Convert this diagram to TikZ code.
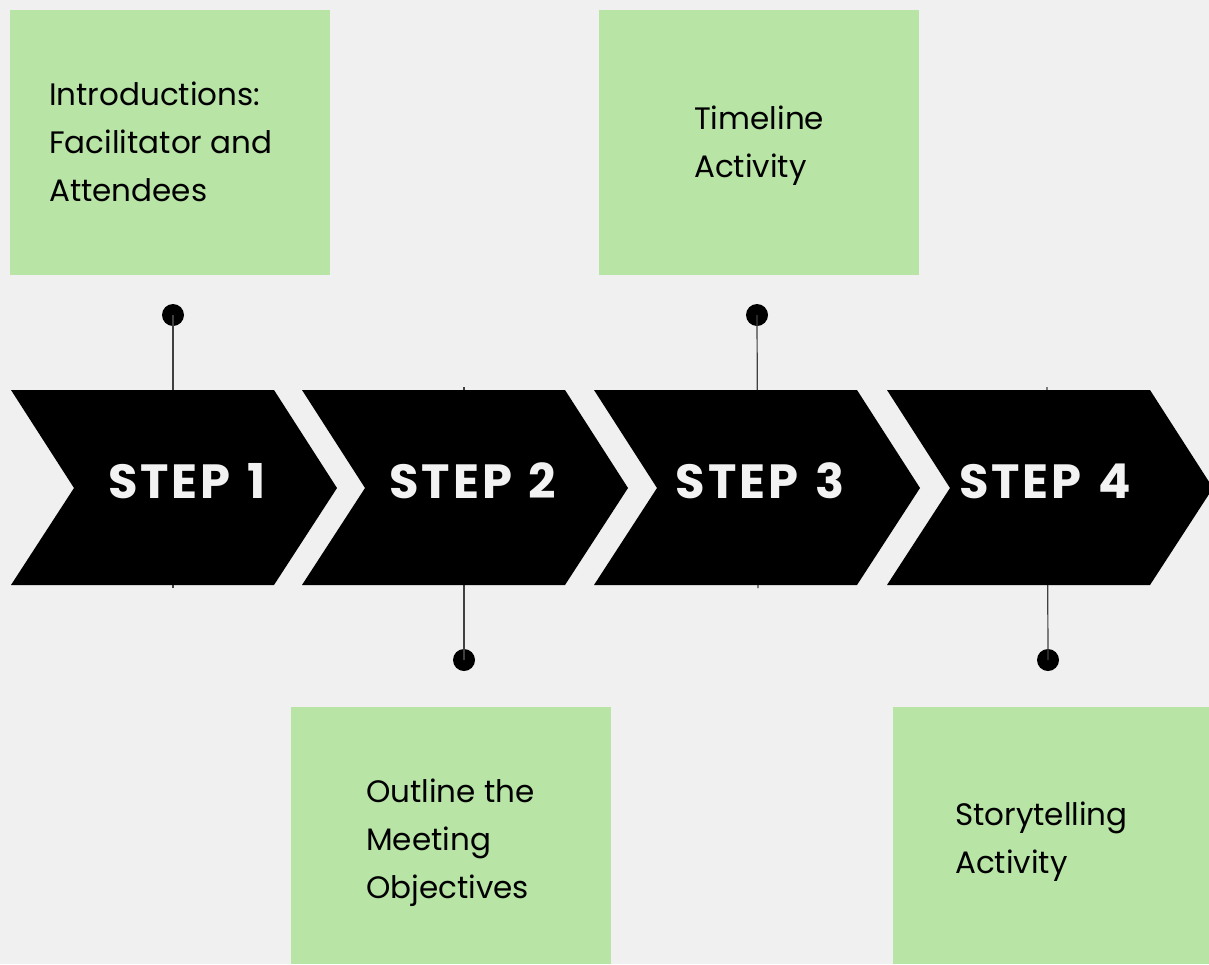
\documentclass[tikz,border=0pt]{standalone}
\usepackage{fontspec}
\setmainfont{Poppins}
\newfontfamily\stepfont[LetterSpace=6,WordSpace=1.3]{Poppins}
\definecolor{bg}{RGB}{240,240,240}
\definecolor{boxgreen}{RGB}{184,228,166}
\definecolor{steptext}{RGB}{242,242,242}
\begin{document}
\begin{tikzpicture}[x=1pt,y=-1pt,
  box/.style={fill=boxgreen},
  chev/.style={fill=black},
  dot/.style={circle,fill=black,inner sep=0pt,minimum size=22pt},
  stem/.style={draw=black!75,line width=1.2pt},
  boxlabel/.style={anchor=base west,align=left,inner sep=0pt,font=\fontsize{31}{48}\selectfont,text=black},
  steplabel/.style={anchor=base,inner sep=0pt,font=\stepfont\fontsize{48}{56}\selectfont\bfseries,text=steptext}]
\useasboundingbox (0,0) rectangle (1209,964);
\clip (0,0) rectangle (1209,964);
\fill[bg] (0,0) rectangle (1209,964);

% green boxes
\fill[box] (10,10) rectangle (330,275);
\fill[box] (599,10) rectangle (919,275);
\fill[box] (291,707) rectangle (611,964);
\fill[box] (893,707) rectangle (1209,964);

% text nodes (anchor = baseline of last line)
\node[boxlabel] (t1) at (49,201) {Introductions:\\Facilitator and\\Attendees};
\node[boxlabel] (t3) at (694,177) {Timeline\\Activity};
\node[boxlabel] (t2) at (366,898) {Outline the\\Meeting\\Objectives};
\node[boxlabel] (t4) at (955,873) {Storytelling\\Activity};

% dots and stems
\node[dot] (d1) at (173,315) {};
\node[dot] (d3) at (757,315) {};
\node[dot] (d2) at (464,660) {};
\node[dot] (d4) at (1048,660) {};
\coordinate (e1) at (173,588);
\coordinate (e3) at (758,588);
\coordinate (e2) at (464,387);
\coordinate (e4) at (1047,387);
\draw[stem] (d1.center) -- (e1);
\draw[stem] (d3.center) -- (e3);
\draw[stem] (d2.center) -- (e2);
\draw[stem] (d4.center) -- (e4);

% chevrons
\foreach \x in {11,302,594,887}{
  \fill[chev] (\x,390) -- ++(263,0) -- ++(63,98) -- ++(-63,97) -- ++(-263,0) -- ++(63,-97) -- cycle;
}

\node[steplabel] (s1) at (187,498) {STEP 1};
\node[steplabel] (s2) at (473,498) {STEP 2};
\node[steplabel] (s3) at (760,498) {STEP 3};
\node[steplabel] (s4) at (1045,498) {STEP 4};
\end{tikzpicture}
\end{document}
